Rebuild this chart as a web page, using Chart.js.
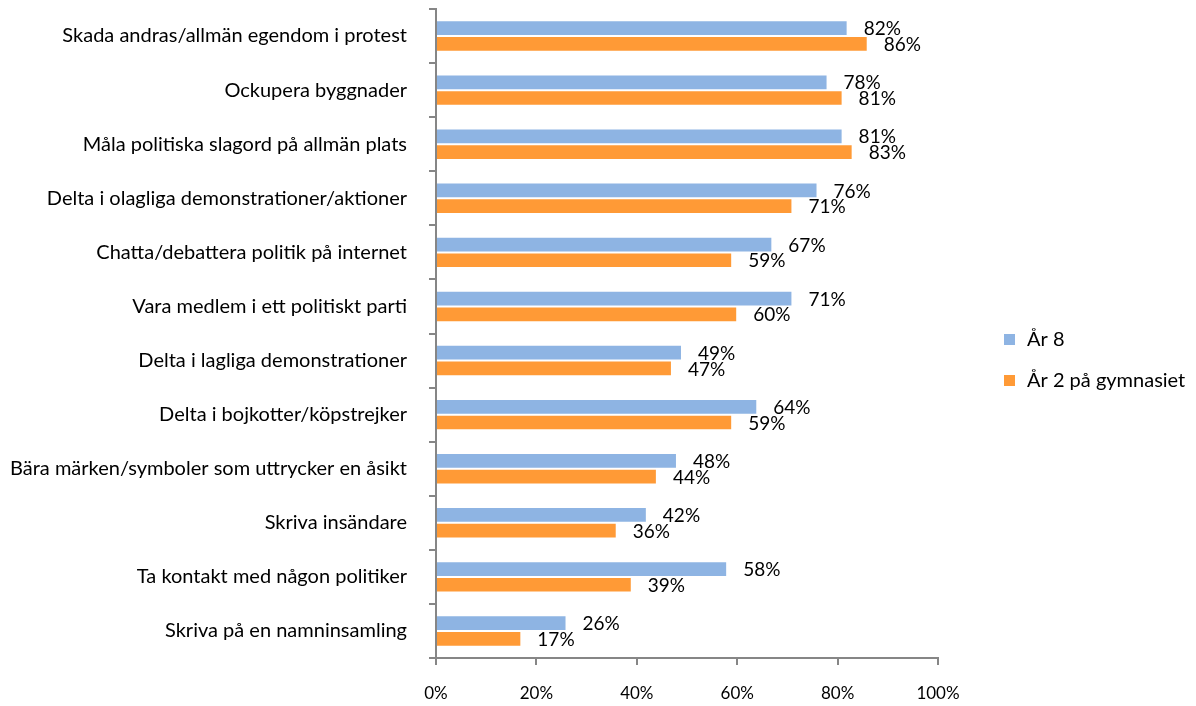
<!DOCTYPE html>
<html>
<head>
<meta charset="utf-8">
<script src="https://cdn.jsdelivr.net/npm/chart.js@4.4.0/dist/chart.umd.min.js"></script>
<style>
  html, body { margin: 0; padding: 0; background: #fff; }
  #wrap { width: 1196px; height: 706px; position: relative; }
</style>
</head>
<body>
<div id="wrap"><canvas id="chart"></canvas></div>
<script>
const categories = [
  "Skada andras/allmän egendom i protest",
  "Ockupera byggnader",
  "Måla politiska slagord på allmän plats",
  "Delta i olagliga demonstrationer/aktioner",
  "Chatta/debattera politik på internet",
  "Vara medlem i ett politiskt parti",
  "Delta i lagliga demonstrationer",
  "Delta i bojkotter/köpstrejker",
  "Bära märken/symboler som uttrycker en åsikt",
  "Skriva insändare",
  "Ta kontakt med någon politiker",
  "Skriva på en namninsamling"
];
const ar8 = [82, 78, 81, 76, 67, 71, 49, 64, 48, 42, 58, 26];
const ar2gym = [86, 81, 83, 71, 59, 60, 47, 59, 44, 36, 39, 17];
const seriesNames = ["År 8", "År 2 på gymnasiet"];
const xTicks = [0, 20, 40, 60, 80, 100];

const FONT = "Lato";
const axisColor = "#868686";

// value labels at the end of each bar
const barLabels = {
  id: "barLabels",
  afterDatasetsDraw(chart) {
    const ctx = chart.ctx;
    ctx.save();
    ctx.font = "19px " + FONT;
    ctx.fillStyle = "#000";
    ctx.textAlign = "left";
    ctx.textBaseline = "middle";
    chart.data.datasets.forEach((ds, i) => {
      chart.getDatasetMeta(i).data.forEach((bar, j) => {
        ctx.fillText(ds.data[j] + "%", bar.x + 16, bar.y + 1);
      });
    });
    ctx.restore();
  }
};

// legend on the right side
const sideLegend = {
  id: "sideLegend",
  afterDraw(chart) {
    const ctx = chart.ctx;
    ctx.save();
    ctx.font = "20px " + FONT;
    ctx.textBaseline = "middle";
    ctx.textAlign = "left";
    chart.data.datasets.forEach((ds, i) => {
      const y = 339 + i * 41;
      ctx.fillStyle = ds.backgroundColor;
      ctx.fillRect(1004, y - 5, 11, 11);
      ctx.fillStyle = "#000";
      ctx.fillText(ds.label, 1027, y + 1);
    });
    ctx.restore();
  }
};

new Chart(document.getElementById("chart"), {
  type: "bar",
  data: {
    labels: categories,
    datasets: [
      { label: seriesNames[0], data: ar8, backgroundColor: "#8EB4E3",
        borderColor: "rgba(255,255,255,0.7)", borderWidth: 1,
        categoryPercentage: 0.58, barPercentage: 1.0 },
      { label: seriesNames[1], data: ar2gym, backgroundColor: "#FF9A36",
        borderColor: "rgba(255,255,255,0.7)", borderWidth: 1,
        categoryPercentage: 0.58, barPercentage: 1.0 }
    ]
  },
  options: {
    indexAxis: "y",
    responsive: true,
    maintainAspectRatio: false,
    animation: false,
    layout: { padding: { top: 9, right: 258, left: 0, bottom: 0 } },
    plugins: {
      legend: { display: false },
      tooltip: { enabled: false }
    },
    scales: {
      x: {
        min: 0,
        max: 100,
        afterBuildTicks(scale) {
          scale.ticks = xTicks.map(v => ({ value: v }));
        },
        afterFit(scale) { scale.height = 48; },
        ticks: {
          color: "#000",
          font: { family: FONT, size: 17 },
          padding: 18,
          callback: v => v + "%"
        },
        grid: { drawOnChartArea: false, drawTicks: true, tickLength: 7, color: axisColor, lineWidth: 2 },
        border: { color: axisColor, width: 2 }
      },
      y: {
        afterFit(scale) {
          scale.width = 436;
          scale.paddingTop = 0;
          scale.paddingBottom = 0;
        },
        ticks: {
          color: "#000",
          font: { family: FONT, size: 20 },
          padding: 22
        },
        grid: { drawOnChartArea: false, drawTicks: true, tickLength: 7, color: axisColor, lineWidth: 2, offset: true },
        border: { color: axisColor, width: 2 }
      }
    }
  },
  plugins: [barLabels, sideLegend]
});
</script>
</body>
</html>
